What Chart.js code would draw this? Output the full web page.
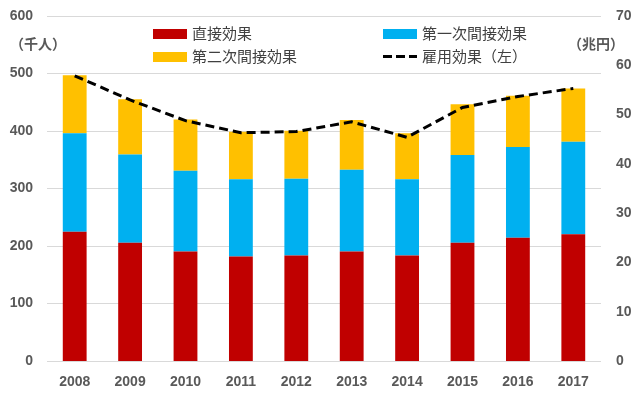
<!DOCTYPE html>
<html>
<head>
<meta charset="utf-8">
<script src="https://cdn.jsdelivr.net/npm/chart.js@4"></script>
<style>
  html, body { margin: 0; padding: 0; background: #fff; }
  #wrap { position: relative; width: 640px; height: 393px; }
  .lg { position: absolute; font-family: "Noto Sans CJK JP", sans-serif; font-size: 15px; color: #404040; line-height: 18px; }
  .box { position: absolute; width: 34px; height: 10px; }
  .unit { position: absolute; font-family: "Noto Sans CJK JP", sans-serif; font-size: 14px; font-weight: bold; color: #595959; line-height: 18px; }
</style>
</head>
<body>
<div id="wrap">
  <canvas id="mainChart" width="640" height="393"></canvas>
  <div class="unit" style="left:10px; top:34px;">（千人）</div>
  <div class="unit" style="left:568px; top:34px;">（兆円）</div>
  <div class="box" style="left:153px; top:29px; background:#C00000;"></div>
  <div class="lg" style="left:192px; top:24px;">直接効果</div>
  <div class="box" style="left:153px; top:52px; background:#FFC000;"></div>
  <div class="lg" style="left:192px; top:47px;">第二次間接効果</div>
  <div class="box" style="left:383px; top:29px; background:#00B0F0;"></div>
  <div class="lg" style="left:422px; top:24px;">第一次間接効果</div>
  <div class="box" style="left:383px; top:55px; height:3px; background:repeating-linear-gradient(90deg,#000 0 9px,transparent 9px 13px);"></div>
  <div class="lg" style="left:422px; top:47px;">雇用効果（左）</div>
</div>
<script>
// values
const years = ['2008', '2009', '2010', '2011', '2012', '2013', '2014', '2015', '2016', '2017'];
const directEffect = [26.2, 24.0, 22.2, 21.2, 21.4, 22.2, 21.4, 24.0, 25.0, 25.7];        // 兆円
const firstIndirect = [20.0, 17.9, 16.4, 15.7, 15.6, 16.6, 15.5, 17.8, 18.4, 18.8];        // 兆円
const secondIndirect = [11.8, 11.2, 10.4, 9.6, 9.7, 10.1, 9.3, 10.3, 10.4, 10.8];          // 兆円
const employment = [496, 454, 418, 397, 399, 416, 389, 441, 460, 474];                     // 千人
const leftTicks = { min: 0, max: 600, step: 100 };
const rightTicks = { min: 0, max: 70, step: 10 };

const tickFont = { family: "'Liberation Sans', sans-serif", size: 14, weight: 'bold' };
const tickColor = '#595959';

const barStyle = {
    type: 'bar',
    yAxisID: 'y1',
    stack: 'effects',
    barPercentage: 0.43,
    categoryPercentage: 1,
    borderWidth: 0,
    order: 1
};

// fixed axis sizes, no extra label padding, so the plot area sits where the reference has it
const fixVertical = (w) => (s) => { s.width = w; s.paddingTop = 0; s.paddingBottom = 0; };

new Chart(document.getElementById('mainChart').getContext('2d'), {
    data: {
        labels: years,
        datasets: [
            { ...barStyle, label: '直接効果', data: directEffect, backgroundColor: '#C00000' },
            { ...barStyle, label: '第一次間接効果', data: firstIndirect, backgroundColor: '#00B0F0' },
            { ...barStyle, label: '第二次間接効果', data: secondIndirect, backgroundColor: '#FFC000' },
            {
                type: 'line',
                label: '雇用効果（左）',
                data: employment,
                yAxisID: 'y',
                borderColor: '#000000',
                borderWidth: 3,
                borderDash: [9, 5],
                pointRadius: 0,
                fill: false,
                tension: 0,
                order: 0
            }
        ]
    },
    options: {
        responsive: false,
        animation: false,
        layout: { padding: { top: 16, bottom: 0, left: 0, right: 0 } },
        plugins: {
            legend: { display: false },
            tooltip: { enabled: false }
        },
        scales: {
            x: {
                stacked: true,
                grid: { display: false, drawTicks: false },
                border: { display: false },
                ticks: { color: tickColor, font: tickFont, padding: 13 },
                afterFit: (s) => { s.height = 32; s.paddingLeft = 0; s.paddingRight = 0; }
            },
            y: {
                position: 'left',
                min: leftTicks.min,
                max: leftTicks.max,
                grid: { color: '#D9D9D9', lineWidth: 1, drawTicks: false },
                border: { display: false },
                ticks: { stepSize: leftTicks.step, color: tickColor, font: tickFont, padding: 14 },
                afterFit: fixVertical(47)
            },
            y1: {
                position: 'right',
                stacked: true,
                min: rightTicks.min,
                max: rightTicks.max,
                grid: { display: false, drawTicks: false },
                border: { display: false },
                ticks: { stepSize: rightTicks.step, color: tickColor, font: tickFont, padding: 15 },
                afterFit: fixVertical(39)
            }
        }
    }
});
</script>
</body>
</html>
